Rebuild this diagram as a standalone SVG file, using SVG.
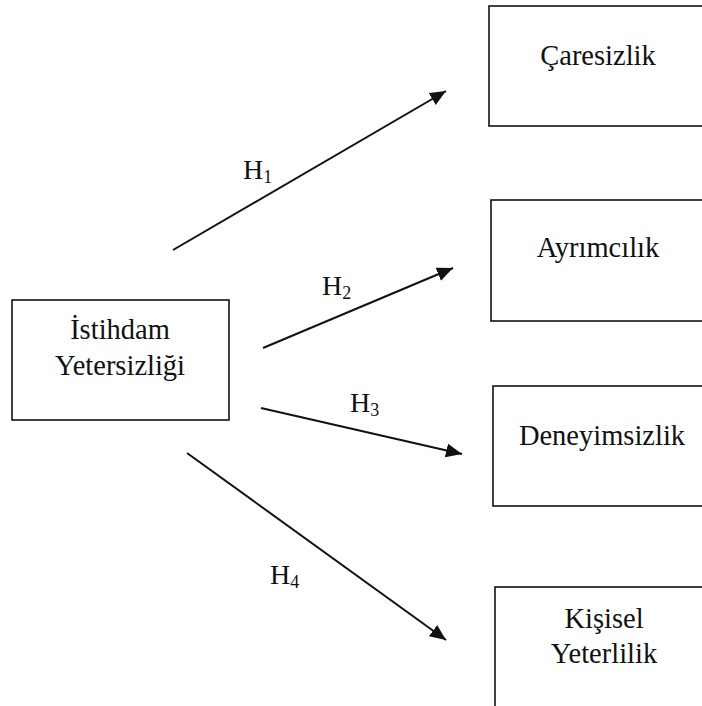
<svg xmlns="http://www.w3.org/2000/svg" width="702" height="706" viewBox="0 0 702 706">
<style>
.box{fill:#fff;stroke:#111;stroke-width:1.6}
.t{font-size:28.5px;fill:#111;text-anchor:middle}
.h{font-size:28px;fill:#111}
.sub{font-size:18px}
.edge{stroke:#111;stroke-width:2;fill:none;marker-end:url(#arr)}
</style>
<defs>
<marker id="arr" markerUnits="userSpaceOnUse" markerWidth="18" markerHeight="16" refX="16" refY="7" orient="auto">
<path d="M0,0 L16,7 L0,14 Z" fill="#111"/>
</marker>
</defs>
<rect width="702" height="706" fill="#fff"/>
<g font-family="Liberation Serif, Tinos, DejaVu Serif, Times New Roman, serif">
<g id="n-istihdam">
<rect class="box" x="12" y="300" width="217" height="120"/>
<text class="t" x="120" y="339">İstihdam</text>
<text class="t" x="120" y="375">Yetersizliği</text>
</g>
<g id="n-caresizlik">
<rect class="box" x="489" y="6" width="218" height="120"/>
<text class="t" x="598" y="65">Çaresizlik</text>
</g>
<g id="n-ayrimcilik">
<rect class="box" x="491" y="200" width="216" height="121"/>
<text class="t" x="598" y="257">Ayrımcılık</text>
</g>
<g id="n-deneyimsizlik">
<rect class="box" x="493" y="386" width="218" height="120"/>
<text class="t" x="602" y="445">Deneyimsizlik</text>
</g>
<g id="n-kisisel">
<rect class="box" x="495" y="587" width="218" height="121"/>
<text class="t" x="604" y="628">Kişisel</text>
<text class="t" x="604" y="663">Yeterlilik</text>
</g>
<g id="connectors">
<line class="edge" x1="173" y1="250" x2="446" y2="91"/>
<line class="edge" x1="263" y1="348" x2="453" y2="268"/>
<line class="edge" x1="261" y1="408" x2="462" y2="454"/>
<line class="edge" x1="187" y1="453" x2="446" y2="640"/>
<text class="h" x="243" y="179">H<tspan class="sub" dy="4">1</tspan></text>
<text class="h" x="322" y="295">H<tspan class="sub" dy="4">2</tspan></text>
<text class="h" x="350" y="412">H<tspan class="sub" dy="4">3</tspan></text>
<text class="h" x="270" y="584">H<tspan class="sub" dy="4">4</tspan></text>
</g>
</g>
</svg>
